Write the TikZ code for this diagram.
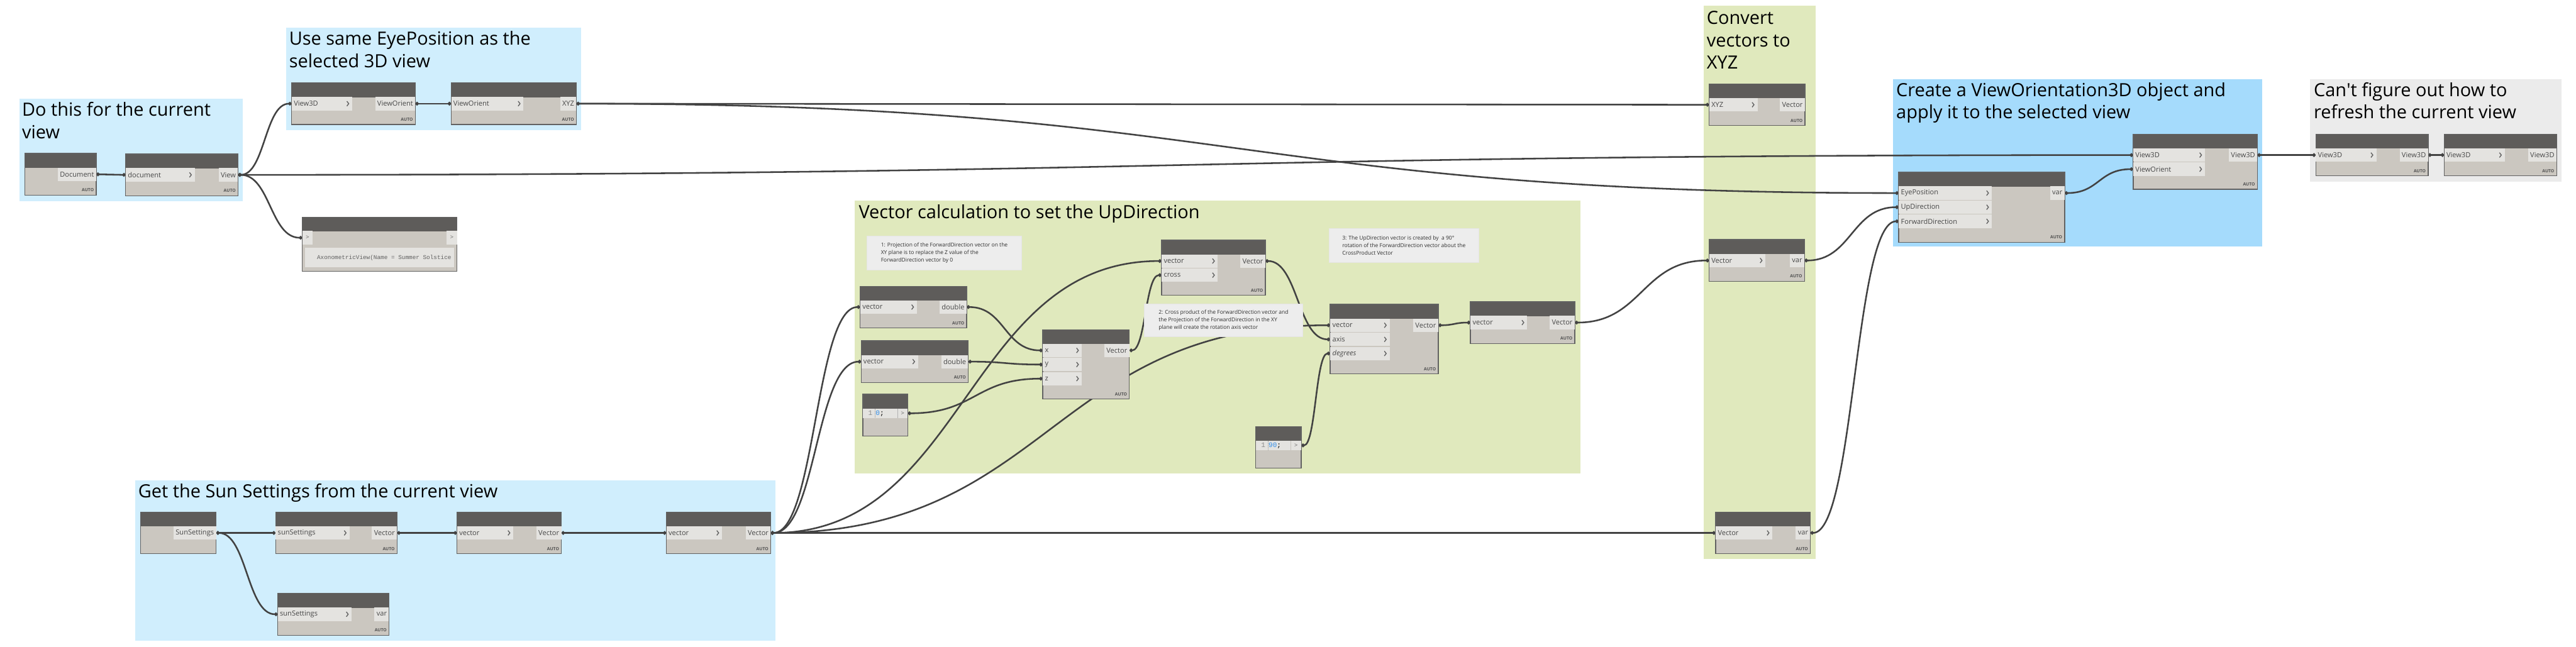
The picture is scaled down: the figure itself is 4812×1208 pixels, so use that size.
\documentclass[tikz,border=0pt]{standalone}
\usepackage{fontspec}
\setmainfont{Open Sans}
\newfontfamily\monofont{Liberation Mono}
\usetikzlibrary{arrows.meta,positioning,calc}
\definecolor{grpblue}{RGB}{208,238,253}
\definecolor{grpdeep}{RGB}{165,219,252}
\definecolor{grpgreen}{RGB}{224,233,189}
\definecolor{grpgray}{RGB}{235,235,235}
\definecolor{hdrfill}{RGB}{94,92,90}
\definecolor{bodyfill}{RGB}{203,199,192}
\definecolor{portfill}{RGB}{228,227,224}
\definecolor{rimcol}{RGB}{98,98,98}
\definecolor{wirecol}{RGB}{66,66,66}
\definecolor{notefill}{RGB}{237,237,237}
\definecolor{codeblue}{RGB}{52,142,232}
\pgfdeclarelayer{groups}
\pgfdeclarelayer{wires}
\pgfsetlayers{groups,wires,main}

\begin{document}
\begin{tikzpicture}[
  x=1pt,y=-1pt,
  gtitle/.style={anchor=base west,inner sep=0pt,align=left,
    font=\fontsize{34}{42}\selectfont},
  dyn/.style={anchor=north west,draw=rimcol,fill=bodyfill,line width=1.5pt,
    inner sep=0pt,path picture={\fill[hdrfill]
      (path picture bounding box.north west) rectangle
      ([yshift=-27pt]path picture bounding box.north east);}},
  lace/.style={label={[autotag]south east:AUTO}},
  autotag/.style={anchor=south east,inner xsep=5pt,inner ysep=7pt,
    text=black!68,font=\fontsize{8}{8}\selectfont\bfseries},
  plabel/.style={anchor=west,inner xsep=4pt,text=black!72,
    font=\fontsize{13}{13}\selectfont},
  chev/.style={draw=black!62,line width=1.6pt},
  inport/.style 2 args={anchor=north west,fill=portfill,inner sep=0pt,
    minimum width=#1,minimum height=25pt,label={[plabel]west:#2},
    path picture={\draw[chev]
      ([xshift=-10pt,yshift=4.5pt]path picture bounding box.east)
      -- ++(3.5pt,-4.5pt) -- ++(-3.5pt,-4.5pt);}},
  outport/.style={anchor=north east,fill=portfill,inner xsep=4pt,
    inner ysep=0pt,minimum height=25pt,text=black!72,
    font=\fontsize{13}{13}\selectfont},
  coderow/.style={anchor=north west,fill=portfill,inner ysep=0pt,
    inner xsep=10pt,minimum height=18pt,text width=45pt,align=left,
    font=\monofont\fontsize{13}{13}\selectfont,
    path picture={\draw[black!35,densely dotted,line width=.8pt]
      ([xshift=23pt]path picture bounding box.north west) --
      ([xshift=23pt]path picture bounding box.south west);}},
  codeport/.style={anchor=north east,fill=portfill,minimum width=19pt,
    minimum height=18pt,inner sep=0pt,text=black!60,
    font=\fontsize{11}{11}\selectfont,
    path picture={\draw[black!30,line width=1pt]
      (path picture bounding box.north west) --
      (path picture bounding box.south west);}},
  smallport/.style={fill=portfill,minimum width=19pt,minimum height=26pt,
    inner sep=0pt,text=black!60,font=\fontsize{11}{11}\selectfont},
  watchbox/.style={anchor=north west,fill=portfill,minimum width=279pt,
    minimum height=36pt,inner sep=0pt,label={[watchtext]west:#1}},
  watchtext/.style={anchor=west,inner xsep=23pt,text=black!62,
    font=\monofont\fontsize{11}{11}\selectfont},
  note/.style={anchor=north west,fill=notefill,draw=black!10,line width=1pt,
    align=left,inner xsep=11pt,text=black!82,
    font=\fontsize{10}{14}\selectfont},
  wire/.style={draw=wirecol,line width=3pt,
    {Circle[length=6.5pt]}-{Circle[length=6.5pt]},
    to path={let \p1=(\tikztostart),\p2=(\tikztotarget),
      \n1={0.5*abs(\x2-\x1)} in
      .. controls +(\n1,0) and +(-\n1,0) .. (\tikztotarget)}}
]
  \useasboundingbox (0,0) rectangle (4812,1208);
  \begin{pgfonlayer}{groups}
    \fill[grpblue] (36,184) rectangle (453,376);
    \fill[grpblue] (534,52) rectangle (1085,243);
    \fill[grpgreen] (1596,375) rectangle (2952,885);
    \fill[grpgreen] (3182,11) rectangle (3392,1044);
    \fill[grpdeep] (3536,148) rectangle (4226,461);
    \fill[grpgray] (4315,148) rectangle (4785,339);
    \fill[grpblue] (252,897) rectangle (1449,1197);
  \end{pgfonlayer}
  \node[gtitle] (tCurrent) at (41,259) {Do this for the current\\view};
  \node[gtitle] (tEye) at (540,126) {Use same EyePosition as the\\selected 3D view};
  \node[gtitle] (tUp) at (1604,408) {Vector calculation to set the UpDirection};
  \node[gtitle] (tXYZ) at (3188,129) {Convert\\vectors to\\XYZ};
  \node[gtitle] (tOri) at (3542,222) {Create a ViewOrientation3D object and\\apply it to the selected view};
  \node[gtitle] (tRefresh) at (4322,222) {Can\textquotesingle t figure out how to\\refresh the current view};
  \node[gtitle] (tSun) at (258,930) {Get the Sun Settings from the current view};

  \node[dyn,lace,minimum width=133,minimum height=78] (docPick) at (46,286) {};
  \node[outport] (docPick-o) at ([shift={(-.75pt,-27pt)}]docPick.north east) {Document};
  \node[dyn,lace,minimum width=210,minimum height=78] (curView) at (234,287) {};
  \node[inport={129}{document}] (curView-i) at ([shift={(.75pt,-27pt)}]curView.north west) {};
  \node[outport] (curView-o) at ([shift={(-.75pt,-27pt)}]curView.north east) {View};

  \node[dyn,minimum width=289,minimum height=101] (axoWatch) at (564,405) {};
  \node[smallport,anchor=north west] (axoWatch-i) at ([shift={(.75pt,-26pt)}]axoWatch.north west) {>};
  \node[smallport,anchor=north east] (axoWatch-o) at ([shift={(-.75pt,-26pt)}]axoWatch.north east) {>};
  \node[watchbox={AxonometricView(Name = Summer Solstice}] (axoText) at ([shift={(5pt,-58pt)}]axoWatch.north west) {};

  \node[dyn,lace,minimum width=231,minimum height=78] (getOri) at (544,154) {};
  \node[inport={113}{View3D}] (getOri-i) at ([shift={(.75pt,-27pt)}]getOri.north west) {};
  \node[outport] (getOri-o) at ([shift={(-.75pt,-27pt)}]getOri.north east) {ViewOrient};
  \node[dyn,lace,minimum width=234,minimum height=78] (oriEye) at (842,154) {};
  \node[inport={135}{ViewOrient}] (oriEye-i) at ([shift={(.75pt,-27pt)}]oriEye.north west) {};
  \node[outport] (oriEye-o) at ([shift={(-.75pt,-27pt)}]oriEye.north east) {XYZ};

  \node[dyn,lace,minimum width=179,minimum height=78] (eyeVec) at (3192,156) {};
  \node[inport={90}{XYZ}] (eyeVec-i) at ([shift={(.75pt,-27pt)}]eyeVec.north west) {};
  \node[outport] (eyeVec-o) at ([shift={(-.75pt,-27pt)}]eyeVec.north east) {Vector};
  \node[dyn,lace,minimum width=178,minimum height=78] (upVar) at (3192,447) {};
  \node[inport={105}{Vector}] (upVar-i) at ([shift={(.75pt,-27pt)}]upVar.north west) {};
  \node[outport] (upVar-o) at ([shift={(-.75pt,-27pt)}]upVar.north east) {var};
  \node[dyn,lace,minimum width=177,minimum height=78] (fwdVar) at (3204,956) {};
  \node[inport={106}{Vector}] (fwdVar-i) at ([shift={(.75pt,-27pt)}]fwdVar.north west) {};
  \node[outport] (fwdVar-o) at ([shift={(-.75pt,-27pt)}]fwdVar.north east) {var};

  \node[dyn,lace,minimum width=310,minimum height=131] (mkOri) at (3546,321) {};
  \node[inport={174}{EyePosition}] (mkOri-i1) at ([shift={(.75pt,-27pt)}]mkOri.north west) {};
  \node[inport={174}{UpDirection},below=1pt of mkOri-i1] (mkOri-i2) {};
  \node[inport={174}{ForwardDirection},below=1pt of mkOri-i2] (mkOri-i3) {};
  \node[outport] (mkOri-o) at ([shift={(-.75pt,-27pt)}]mkOri.north east) {var};
  \node[dyn,lace,minimum width=232,minimum height=103] (setOri) at (3984,250) {};
  \node[inport={134}{View3D}] (setOri-i1) at ([shift={(.75pt,-27pt)}]setOri.north west) {};
  \node[inport={134}{ViewOrient},below=1pt of setOri-i1] (setOri-i2) {};
  \node[outport] (setOri-o) at ([shift={(-.75pt,-27pt)}]setOri.north east) {View3D};

  \node[dyn,lace,minimum width=210,minimum height=78] (refA) at (4325,250) {};
  \node[inport={113}{View3D}] (refA-i) at ([shift={(.75pt,-27pt)}]refA.north west) {};
  \node[outport] (refA-o) at ([shift={(-.75pt,-27pt)}]refA.north east) {View3D};
  \node[dyn,lace,minimum width=210,minimum height=78] (refB) at (4565,250) {};
  \node[inport={113}{View3D}] (refB-i) at ([shift={(.75pt,-27pt)}]refB.north west) {};
  \node[outport] (refB-o) at ([shift={(-.75pt,-27pt)}]refB.north east) {View3D};

  \node[note,minimum width=289,minimum height=63] (noteProj) at (1619,441)
    {1: Projection of the ForwardDirection vector on the\\XY plane is to replace the Z value of the\\ForwardDirection vector by 0};
  \node[note,minimum width=296,minimum height=61] (noteCross) at (2137,567)
    {2: Cross product of the ForwardDirection vector and\\the Projection of the ForwardDirection in the XY\\plane will create the rotation axis vector};
  \node[note,minimum width=280,minimum height=63] (noteRot) at (2482,427)
    {3: The UpDirection vector is created by\ \ a 90°\\rotation of the ForwardDirection vector about the\\CrossProduct Vector};

  \node[dyn,lace,minimum width=199,minimum height=78] (fwdX) at (1606,534) {};
  \node[inport={106}{vector}] (fwdX-i) at ([shift={(.75pt,-27pt)}]fwdX.north west) {};
  \node[outport] (fwdX-o) at ([shift={(-.75pt,-27pt)}]fwdX.north east) {double};
  \node[dyn,lace,minimum width=200,minimum height=78] (fwdY) at (1608,636) {};
  \node[inport={106}{vector}] (fwdY-i) at ([shift={(.75pt,-27pt)}]fwdY.north west) {};
  \node[outport] (fwdY-o) at ([shift={(-.75pt,-27pt)}]fwdY.north east) {double};
  \node[dyn,minimum width=84,minimum height=78] (zeroCode) at (1611,736) {};
  \node[coderow] (zeroCode-r) at ([shift={(.75pt,-27pt)}]zeroCode.north west)
    {\textcolor{black!45}{1}\hspace{6pt}\textcolor{codeblue}{0};};
  \node[codeport] (zeroCode-o) at ([shift={(-.75pt,-27pt)}]zeroCode.north east) {>};

  \node[dyn,lace,minimum width=162,minimum height=130] (byXYZ) at (1947,615) {};
  \node[inport={73}{x}] (byXYZ-i1) at ([shift={(.75pt,-27pt)}]byXYZ.north west) {};
  \node[inport={73}{y},below=1pt of byXYZ-i1] (byXYZ-i2) {};
  \node[inport={73}{z},below=1pt of byXYZ-i2] (byXYZ-i3) {};
  \node[outport] (byXYZ-o) at ([shift={(-.75pt,-27pt)}]byXYZ.north east) {Vector};
  \node[dyn,lace,minimum width=194,minimum height=103] (crossV) at (2169,448) {};
  \node[inport={105}{vector}] (crossV-i1) at ([shift={(.75pt,-27pt)}]crossV.north west) {};
  \node[inport={105}{cross},below=1pt of crossV-i1] (crossV-i2) {};
  \node[outport] (crossV-o) at ([shift={(-.75pt,-27pt)}]crossV.north east) {Vector};
  \node[dyn,lace,minimum width=202,minimum height=130] (rotV) at (2484,568) {};
  \node[inport={111}{vector}] (rotV-i1) at ([shift={(.75pt,-27pt)}]rotV.north west) {};
  \node[inport={111}{axis},below=1pt of rotV-i1] (rotV-i2) {};
  \node[inport={111}{\itshape degrees},below=1pt of rotV-i2] (rotV-i3) {};
  \node[outport] (rotV-o) at ([shift={(-.75pt,-27pt)}]rotV.north east) {Vector};
  \node[dyn,minimum width=85,minimum height=78] (ninetyCode) at (2345,796) {};
  \node[coderow] (ninetyCode-r) at ([shift={(.75pt,-27pt)}]ninetyCode.north west)
    {\textcolor{black!45}{1}\hspace{6pt}\textcolor{codeblue}{90};};
  \node[codeport] (ninetyCode-o) at ([shift={(-.75pt,-27pt)}]ninetyCode.north east) {>};
  \node[dyn,lace,minimum width=195,minimum height=78] (normV) at (2746,563) {};
  \node[inport={106}{vector}] (normV-i) at ([shift={(.75pt,-27pt)}]normV.north west) {};
  \node[outport] (normV-o) at ([shift={(-.75pt,-27pt)}]normV.north east) {Vector};

  \node[dyn,minimum width=141,minimum height=78] (sunSet) at (262,956) {};
  \node[outport] (sunSet-o) at ([shift={(-.75pt,-27pt)}]sunSet.north east) {SunSettings};
  \node[dyn,lace,minimum width=227,minimum height=78] (sunDir) at (514,956) {};
  \node[inport={138}{sunSettings}] (sunDir-i) at ([shift={(.75pt,-27pt)}]sunDir.north west) {};
  \node[outport] (sunDir-o) at ([shift={(-.75pt,-27pt)}]sunDir.north east) {Vector};
  \node[dyn,lace,minimum width=195,minimum height=78] (dirA) at (853,956) {};
  \node[inport={105}{vector}] (dirA-i) at ([shift={(.75pt,-27pt)}]dirA.north west) {};
  \node[outport] (dirA-o) at ([shift={(-.75pt,-27pt)}]dirA.north east) {Vector};
  \node[dyn,lace,minimum width=195,minimum height=78] (dirB) at (1244,956) {};
  \node[inport={104}{vector}] (dirB-i) at ([shift={(.75pt,-27pt)}]dirB.north west) {};
  \node[outport] (dirB-o) at ([shift={(-.75pt,-27pt)}]dirB.north east) {Vector};
  \node[dyn,lace,minimum width=208,minimum height=78] (sunVar) at (518,1108) {};
  \node[inport={138}{sunSettings}] (sunVar-i) at ([shift={(.75pt,-27pt)}]sunVar.north west) {};
  \node[outport] (sunVar-o) at ([shift={(-.75pt,-27pt)}]sunVar.north east) {var};

  \begin{pgfonlayer}{wires}
    \draw[wire] (docPick-o.east) to (curView-i.west);
    \draw[wire] (curView-o.east) to (getOri-i.west);
    \draw[wire] (curView-o.east) to (axoWatch-i.west);
    \draw[wire] (curView-o.east) to (setOri-i1.west);
    \draw[wire] (getOri-o.east) to (oriEye-i.west);
    \draw[wire] (oriEye-o.east) to (eyeVec-i.west);
    \draw[wire] (oriEye-o.east) to (mkOri-i1.west);
    \draw[wire] (sunSet-o.east) to (sunDir-i.west);
    \draw[wire] (sunSet-o.east) to (sunVar-i.west);
    \draw[wire] (sunDir-o.east) to (dirA-i.west);
    \draw[wire] (dirA-o.east) to (dirB-i.west);
    \draw[wire] (dirB-o.east) to (fwdX-i.west);
    \draw[wire] (dirB-o.east) to (fwdY-i.west);
    \draw[wire] (dirB-o.east) to (crossV-i1.west);
    \draw[wire] (dirB-o.east) to (rotV-i1.west);
    \draw[wire] (dirB-o.east) to (fwdVar-i.west);
    \draw[wire] (fwdX-o.east) to (byXYZ-i1.west);
    \draw[wire] (fwdY-o.east) to (byXYZ-i2.west);
    \draw[wire] (zeroCode-o.east) to (byXYZ-i3.west);
    \draw[wire] (byXYZ-o.east) to (crossV-i2.west);
    \draw[wire] (crossV-o.east) to (rotV-i2.west);
    \draw[wire] (ninetyCode-o.east) to (rotV-i3.west);
    \draw[wire] (rotV-o.east) to (normV-i.west);
    \draw[wire] (normV-o.east) to (upVar-i.west);
    \draw[wire] (upVar-o.east) to (mkOri-i2.west);
    \draw[wire] (fwdVar-o.east) to (mkOri-i3.west);
    \draw[wire] (mkOri-o.east) to (setOri-i2.west);
    \draw[wire] (setOri-o.east) to (refA-i.west);
    \draw[wire] (refA-o.east) to (refB-i.west);
  \end{pgfonlayer}
\end{tikzpicture}
\end{document}
